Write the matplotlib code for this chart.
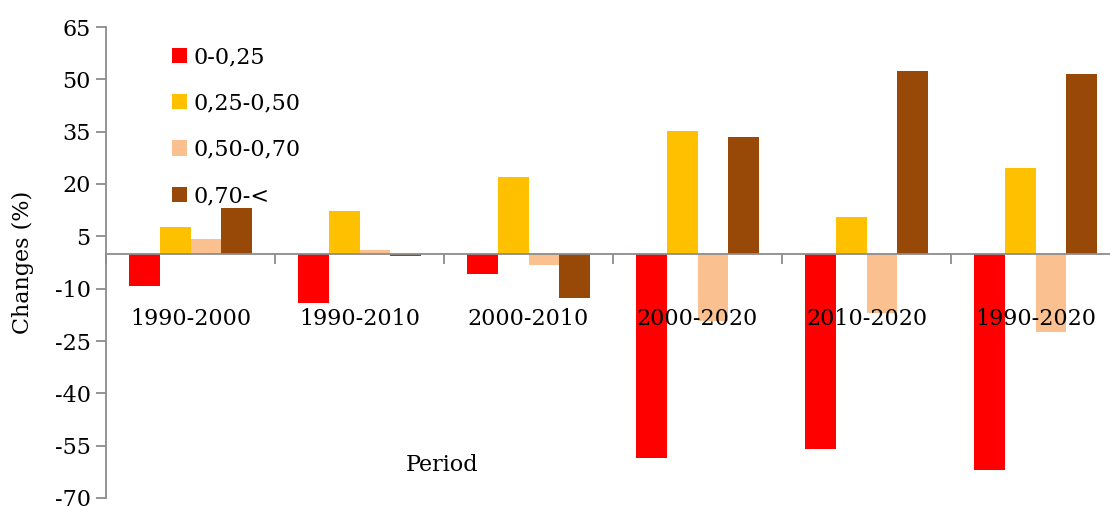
import numpy as np
import matplotlib.pyplot as plt

# data
periods = ['1990-2000', '1990-2010', '2000-2010', '2000-2020', '2010-2020', '1990-2020']
classes = ['0-0,25', '0,25-0,50', '0,50-0,70', '0,70-<']
v_0_025 = [-9.1, -14.1, -5.7, -58.4, -55.9, -62.1]
v_025_050 = [7.6, 12.4, 21.9, 35.1, 10.5, 24.5]
v_050_070 = [4.2, 1.2, -3.1, -19.4, -17.0, -22.4]
v_070 = [13.1, -0.7, -12.7, 33.5, 52.5, 51.4]
colors = ['#FF0000', '#FFC000', '#FAC090', '#984807']

plt.rcParams['font.family'] = 'DejaVu Serif'
plt.rcParams['font.size'] = 16
plt.rcParams['axes.unicode_minus'] = False

fig = plt.figure(figsize=(11.1, 5.07), dpi=100)
# axis spans a bit past the right edge, like in the original
ax = fig.add_axes([106/1110, 1-498/507, 1014/1110, 471/507])

x = np.arange(len(periods))
w = 0.182
series = [v_0_025, v_025_050, v_050_070, v_070]
for i, (vals, c, lab) in enumerate(zip(series, colors, classes)):
    ax.bar(x + 0.136 + w*(i + 0.5), vals, width=w, color=c, label=lab, zorder=2)

ax.set_xlim(0, len(periods))
ax.set_ylim(-70, 65)
ax.set_yticks(np.arange(-70, 66, 15))

# group boundaries as major ticks, labels on minor ticks
ax.set_xticks(np.arange(len(periods) + 1))
ax.set_xticklabels([])
ax.set_xticks(x + 0.5, minor=True)
ax.set_xticklabels(periods, minor=True)
ax.tick_params(axis='x', which='minor', length=0, pad=39)
ax.tick_params(axis='x', which='major', length=7, width=1.3, color='#8c8c8c', direction='out')
ax.tick_params(axis='y', length=7, width=1.3, color='#8c8c8c', pad=4)
ax.xaxis.set_zorder(5)  # labels sit on top of the bars

for s in ['top', 'right']:
    ax.spines[s].set_visible(False)
ax.spines['left'].set_color('#8c8c8c')
ax.spines['left'].set_linewidth(1.3)
ax.spines['bottom'].set_position(('data', 0))
ax.spines['bottom'].set_color('#8c8c8c')
ax.spines['bottom'].set_linewidth(1.3)
ax.spines['bottom'].set_zorder(3)

ax.set_ylabel('Changes (%)', fontsize=16, labelpad=15)
fig.text(442/1110, 1-465/507, 'Period', ha='center', va='center', fontsize=16)

ax.legend(loc='upper left', bbox_to_anchor=(172/1110, 1-46/507),
          bbox_transform=fig.transFigure, frameon=False,
          handlelength=0.68, handleheight=0.68, handletextpad=0.3,
          labelspacing=1.1, borderpad=0, borderaxespad=0, fontsize=16)

fig.savefig('out.png', dpi=100)
